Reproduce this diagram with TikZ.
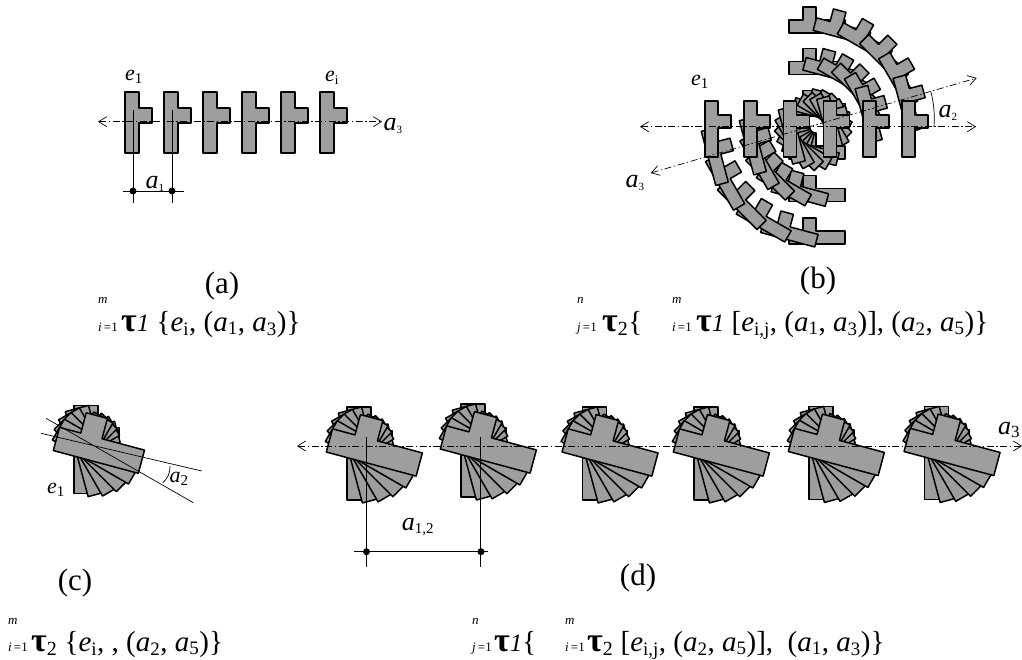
\documentclass[tikz,border=0pt]{standalone}
\usepackage{fontspec}
\setmainfont{Liberation Serif}
\usetikzlibrary{arrows.meta}
\tikzset{
 x=1pt,y=-1pt,
 tee/.style={draw=black,fill=black!38,line width=1.5pt,line join=round},
 axisline/.style={line width=0.7pt,dash pattern=on 7pt off 2.5pt on 1.5pt off 2.5pt,{Straight Barb[length=8pt,width=10pt]}-{Straight Barb[length=8pt,width=10pt]}},
 thinrule/.style={line width=0.7pt},
 dimdot/.style={circle,fill=black,inner sep=0pt,minimum size=7pt},
 lab/.style={inner sep=0pt,font=\fontsize{22}{22}\selectfont\itshape},
 labb/.style={inner sep=0pt,font=\fontsize{26}{26}\selectfont\itshape},
 captxt/.style={inner sep=0pt,font=\fontsize{31}{31}\selectfont},
 eqn/.style={inner sep=0pt,anchor=base west,font=\fontsize{29}{29}\selectfont},
 lim/.style={inner sep=0pt,anchor=base west,font=\fontsize{13}{13}\selectfont\itshape},
}
% #1 centre x, #2 centre y, #3 angle, #4 #5 T origin relative to centre
\newcommand\smallT[5]{\filldraw[tee,shift={(#1,#2)},rotate=#3]
  (#4-7,#5-31)--(#4+7,#5-31)--(#4+7,#5-15)--(#4+20,#5-15)--(#4+20,#5)--(#4+7,#5)--(#4+7,#5+30)--(#4-7,#5+30)--cycle;}
\newcommand\midT[5]{\filldraw[tee,shift={(#1,#2)},rotate=#3]
  (#4-6.5,#5-27)--(#4+6.5,#5-27)--(#4+6.5,#5-13)--(#4+19.5,#5-13)--(#4+19.5,#5)--(#4+6.5,#5)--(#4+6.5,#5+29)--(#4-6.5,#5+29)--cycle;}
% big T: bar 24 wide, length #4 ; origin is rotation centre
\newcommand\bigT[4]{\filldraw[tee,shift={(#1,#2)},rotate=#3]
  (-19,-36)--(5,-36)--(5,{-36+0.25*#4})--(26,{-36+0.25*#4})--(26,{-36+0.5*#4})--(5,{-36+0.5*#4})--(5,{-36+#4})--(-19,{-36+#4})--cycle;}
\newcommand\fan[3]{\foreach \t in {0,15,...,75}{\bigT{#1}{#2}{\t}{#3}}}
\newcommand\idx[2]{\textsubscript{\fontsize{#1}{#1}\selectfont\upshape #2}}
\newcommand\tauI{{\fontsize{34}{34}\selectfont\textbf{τ}}\textit{\fontsize{25}{25}\selectfont 1}}
\newcommand\tauII{{\fontsize{34}{34}\selectfont\textbf{τ}}\idx{20}{2}}
\begin{document}
\begin{tikzpicture}
\useasboundingbox (0,0) rectangle (1022,660);
% ---------- (a)
\foreach \x in {132,171,210,249,288,327}{\smallT{\x}{123}{0}{0}{0}}
\coordinate (aL) at (98,121.7); \coordinate (aR) at (382,121.7);
\draw[axisline] (aL)--(aR);
\coordinate (d1t) at (133,110); \coordinate (d1b) at (133,203);
\coordinate (d2t) at (172,110); \coordinate (d2b) at (172,203);
\coordinate (dL) at (123,191); \coordinate (dR) at (184,191);
\draw[thinrule] (d1t)--(d1b) (d2t)--(d2b) (dL)--(dR);
\node[dimdot] (pa1) at (133,191) {}; \node[dimdot] (pa2) at (172,191) {};
\node[lab] (ea1) at (134,77) {e\idx{15}{1}};
\node[lab] (eai) at (332,78) {e\idx{13}{i}};
\node[labb] (aa1) at (155,184) {a\idx{11}{1}};
\node[labb] (aa3) at (393,126) {a\idx{11}{3}};
\node[captxt] (capa) at (222,286) {(a)};
% ---------- (b)
\foreach \xo/\cx/\cy in {908.5/811.6/123.6,869.5/812.75/124.75,830/814/126,790.5/815.5/127.5,750.5/816.75/128.75,711.5/818.5/130.5}{
  \foreach \t in {90,75,...,15}{
    \pgfmathsetmacro\ox{\xo-\cx}\pgfmathsetmacro\oy{128-\cy}
    \midT{\cx}{\cy}{\t}{\ox}{\oy}}}
\foreach \x in {711.5,750.5,790,830,869.5,908.5}{\midT{\x}{128}{0}{0}{0}}
\coordinate (bL) at (640,126.7); \coordinate (bR) at (976,126.7);
\coordinate (cL) at (650.7,173); \coordinate (cR) at (976.7,78);
\draw[axisline] (bL)--(bR);
\draw[axisline] (cL)--(cR);
\coordinate (ba1) at (931,92); \coordinate (ba2) at (934,127);
\draw[thinrule] (ba1) to[bend left=8] (ba2);
\node[lab] (eb1) at (700,82) {e\idx{15}{1}};
\node[labb] (ab2) at (948,113) {a\idx{11}{2}};
\node[labb] (ab3) at (635,183) {a\idx{11}{3}};
\node[captxt] (capb) at (818,281) {(b)};
% ---------- (c)
\fan{93}{441.5}{88}
\coordinate (l1a) at (46,418.3); \coordinate (l1b) at (193.3,502.7);
\coordinate (l2a) at (41,433.3); \coordinate (l2b) at (201.7,471);
\draw[thinrule] (l1a)--(l1b) (l2a)--(l2b);
\coordinate (ca1) at (170,466); \coordinate (ca2) at (162.7,482.7);
\draw[thinrule] (ca1) to[bend left=25] (ca2);
\node[lab] (ec1) at (56,490) {e\idx{15}{1}};
\node[lab] (ac2) at (179,479) {a\idx{15}{2}};
\node[captxt] (capc) at (75,583) {(c)};
% ---------- (d)
\foreach \x/\y in {366/443,480/440,601.7/443,713/443,828/442.5,943.7/442.5}{\fan{\x}{\y}{93}}
\coordinate (dL1) at (297,446); \coordinate (dR1) at (1022,446);
\draw[axisline] (dL1)--(dR1);
\coordinate (v1t) at (366.5,437); \coordinate (v1b) at (366.5,567);
\coordinate (v2t) at (480.5,437); \coordinate (v2b) at (480.5,567);
\coordinate (hL) at (354,551.7); \coordinate (hR) at (488,551.7);
\draw[thinrule] (v1t)--(v1b) (v2t)--(v2b) (hL)--(hR);
\node[dimdot] (pd1) at (366.5,551.7) {}; \node[dimdot] (pd2) at (481,551.7) {};
\node[labb] (ad12) at (418,527) {a\idx{15}{1,2}};
\node[labb] (ad3) at (1009,430) {a\idx{17}{3}};
\node[captxt] (capd) at (638,578) {(d)};
% ---------- formulas
\node[lim] (ma) at (98,303) {m};
\node[lim] (ia) at (98,331) {i\,\upshape =1};
\node[eqn] (ta) at (121,331) {\tauI\ \{\textit{e}\idx{19}{i}, (\textit{a}\idx{19}{1}, \textit{a}\idx{19}{3})\}};
\node[lim] (nb) at (577,303) {n};
\node[lim] (jb) at (577,331) {j\,\upshape =1};
\node[eqn] (tb) at (602,331) {\tauII\{};
\node[lim] (mb) at (672,303) {m};
\node[lim] (ib) at (672,331) {i\,\upshape =1};
\node[eqn] (tb2) at (696,331) {\tauI\ [\textit{e}\idx{19}{i,j}, (\textit{a}\idx{19}{1}, \textit{a}\idx{19}{3})], (\textit{a}\idx{19}{2}, \textit{a}\idx{19}{5})\}};
\node[lim] (mc) at (8,624) {m};
\node[lim] (ic) at (8,651) {i\,\upshape =1};
\node[eqn] (tc) at (31,651) {\tauII\ \{\textit{e}\idx{19}{i}, , (\textit{a}\idx{19}{2}, \textit{a}\idx{19}{5})\}};
\node[lim] (nd) at (472,624) {n};
\node[lim] (jd) at (472,651) {j\,\upshape =1};
\node[eqn] (td) at (494,651) {\tauI\{};
\node[lim] (md) at (565,624) {m};
\node[lim] (id) at (565,651) {i\,\upshape =1};
\node[eqn] (td2) at (587,651) {\tauII\ [\textit{e}\idx{19}{i,j}, (\textit{a}\idx{19}{2}, \textit{a}\idx{19}{5})], \ (\textit{a}\idx{19}{1}, \textit{a}\idx{19}{3})\}};
\end{tikzpicture}
\end{document}
